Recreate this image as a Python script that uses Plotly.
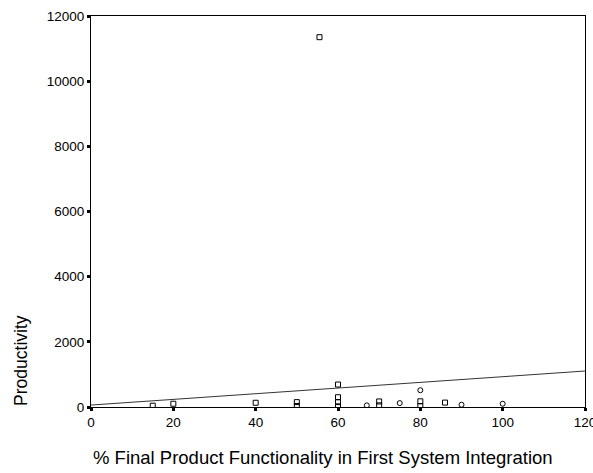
import numpy as np
import plotly.graph_objects as go

# Projects plotted as open squares
sq_x = [15, 20, 40, 50, 50, 60, 60, 60, 60, 70, 70, 80, 80, 86, 55.5]
sq_y = [40, 100, 130, 150, 30, 690, 300, 150, 20, 170, 50, 175, 30, 135, 11350]

# Projects plotted as open circles
ci_x = [67, 75, 80, 90, 100]
ci_y = [50, 120, 515, 70, 100]

# Least-squares fit line
fit_intercept = 60
fit_slope = 8.7
fit_x = np.array([0, 120])
fit_y = fit_intercept + fit_slope * fit_x

x_ticks = [0, 20, 40, 60, 80, 100, 120]
y_ticks = [0, 2000, 4000, 6000, 8000, 10000, 12000]

fig = go.Figure()
fig.add_trace(go.Scatter(x=fit_x, y=fit_y, mode="lines",
                         line=dict(color="#333333", width=1), hoverinfo="skip"))
fig.add_trace(go.Scatter(x=sq_x, y=sq_y, mode="markers",
                         marker=dict(symbol="square-open", size=5,
                                     color="black", line=dict(width=1))))
fig.add_trace(go.Scatter(x=ci_x, y=ci_y, mode="markers",
                         marker=dict(symbol="circle-open", size=5,
                                     color="black", line=dict(width=1))))

axis_font = dict(family="Liberation Sans, Arial, sans-serif", size=13.5, color="black")
common = dict(ticks="outside", ticklen=3, tickwidth=3, tickcolor="black",
              showline=True, linecolor="black", linewidth=1, mirror=True,
              showgrid=False, zeroline=False, tickfont=axis_font,
              automargin=False, ticklabeloverflow="allow")

fig.update_xaxes(range=[0, 120], tickvals=x_ticks,
                 ticktext=[str(v) for v in x_ticks], **common)
fig.update_yaxes(range=[0, 12000], tickvals=y_ticks,
                 ticktext=[str(v) for v in y_ticks], **common)

fig.add_annotation(text="% Final Product Functionality in First System Integration",
                   xref="paper", yref="paper", x=0.47, y=-0.13,
                   showarrow=False, xanchor="center", yanchor="middle",
                   font=dict(family="Liberation Sans, Arial, sans-serif", size=18.5,
                             color="black"))
fig.add_annotation(text="Productivity", xref="paper", yref="paper",
                   x=-0.142, y=0.12, textangle=-90, showarrow=False,
                   xanchor="center", yanchor="middle",
                   font=dict(family="Liberation Sans, Arial, sans-serif", size=17.5,
                             color="black"))

fig.update_layout(width=593, height=473, showlegend=False,
                  plot_bgcolor="white", paper_bgcolor="white",
                  margin=dict(l=91, r=8, t=16, b=66))

fig.write_html("out.html")
